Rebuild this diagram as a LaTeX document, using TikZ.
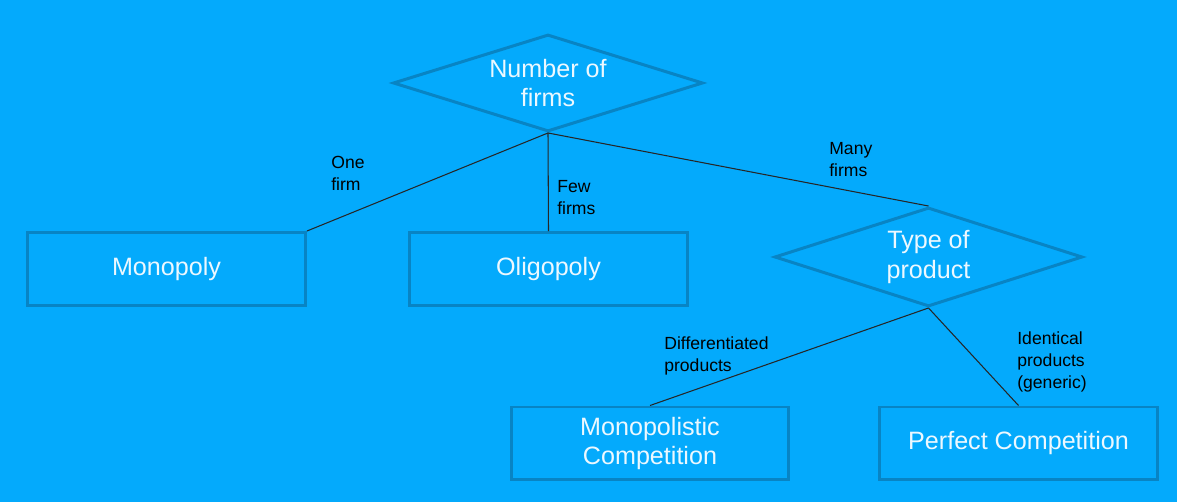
\documentclass[tikz,border=0pt]{standalone}
\usepackage{fontspec}
\setmainfont{Liberation Sans}
\usetikzlibrary{shapes,positioning,arrows}
\definecolor{bgblue}{RGB}{4,170,252}
\definecolor{lineblue}{RGB}{8,132,196}
\definecolor{txtwhite}{RGB}{236,248,255}

\begin{document}
\begin{tikzpicture}[x=0.02cm, y=-0.02cm,
        box/.style = {draw=lineblue, line width=1.7pt, rectangle, minimum width=5.56cm, minimum height=1.46cm, inner sep=0pt, text=txtwhite, font=\fontsize{14.3}{16.8}\selectfont, align=center},
        choice/.style = {draw=lineblue, line width=1.7pt, diamond, shape aspect=3.1, inner sep=0pt, text=txtwhite, font=\fontsize{14.3}{16.8}\selectfont, align=center},
        lbl/.style = {anchor=west, inner sep=0pt, font=\fontsize{10}{12.5}\selectfont, align=left},
        link/.style = {line width=0.6pt, black!85}]
        \fill [bgblue] (0,0) rectangle (1177,502);
        \node [choice, minimum width=6.2cm, minimum height=1.94cm] (firms) at (548,83) {Number of\\firms};
        \node [box] (mono) at (166.5,269) {Monopoly};
        \node [box] (oligo) at (548.5,269) {Oligopoly};
        \node [choice, minimum width=6.16cm, minimum height=1.98cm] (product) at (928.5,257) {Type of\\product};
        \node [box] (monocomp) at (650,443.5) {Monopolistic\\Competition};
        \node [box] (perfect) at (1018.5,443.5) {Perfect Competition};
        \draw [link] (firms.south) -- (mono.north east);
        \draw [link] (firms.south) -- (oligo.north);
        \draw [link] (firms.south) -- (product.north);
        \draw [link] (product.south) -- (monocomp.north);
        \draw [link] (product.south) -- (perfect.north);
        \node [lbl] (onefirm) at (331,173) {One\\firm};
        \node [lbl] (fewfirms) at (557,198) {Few\\firms};
        \node [lbl] (manyfirms) at (829,160) {Many\\firms};
        \node [lbl] (diffprod) at (664,356) {Differentiated\\products};
        \node [lbl] (identprod) at (1017,362) {Identical\\products\\(generic)};
      \end{tikzpicture}
\end{document}
